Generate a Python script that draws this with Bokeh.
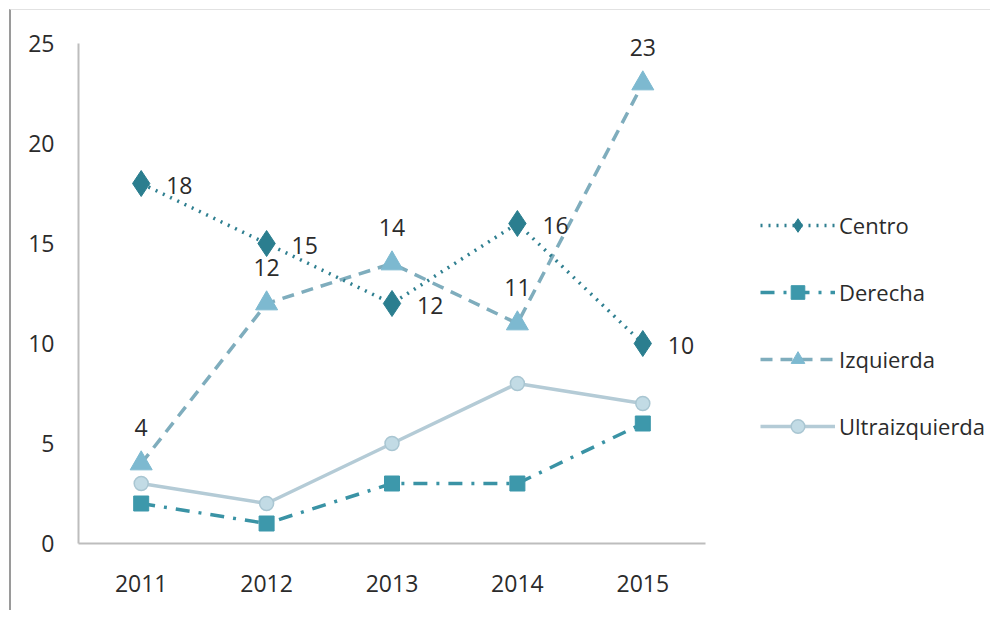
from bokeh.plotting import figure
from bokeh.models import ColumnDataSource, Legend, LegendItem, FixedTicker
from bokeh.core.properties import value
from bokeh.embed import file_html
from bokeh.resources import INLINE

years = ["2011", "2012", "2013", "2014", "2015"]
centro = [18, 15, 12, 16, 10]
derecha = [2, 1, 3, 3, 6]
izquierda = [4, 12, 14, 11, 23]
ultraizquierda = [3, 2, 5, 8, 7]
y_ticks = [0, 5, 10, 15, 20, 25]

FONT = "Open Sans"
TXT = "#2b2b2b"

p = figure(x_range=years, y_range=(0, 26.5), frame_width=627, frame_height=530,
           output_backend="svg", toolbar_location=None,
           min_border_left=67, min_border_right=0, min_border_top=3, min_border_bottom=67)
p.margin = (9, 0, 0, 9)
p.styles = {"border-left": "2px solid #9a9a9a", "border-top": "1px solid #e2e2e2"}
p.x_range.range_padding = 0
p.outline_line_color = None
p.xgrid.grid_line_color = None
p.ygrid.grid_line_color = None

for ax in (p.xaxis, p.yaxis):
    ax.axis_line_color = "#bdbdbd"
    ax.axis_line_width = 2
    ax.major_tick_line_color = None
    ax.minor_tick_line_color = None
    ax.major_label_text_font = FONT
    ax.major_label_text_font_size = "23px"
    ax.major_label_text_color = TXT
p.yaxis.ticker = FixedTicker(ticks=y_ticks)
p.yaxis.bounds = (0, 25)
p.yaxis.major_label_standoff = 18
p.xaxis.major_label_standoff = 25

src = ColumnDataSource(dict(x=years, c=centro, d=derecha, i=izquierda, u=ultraizquierda,
                            cl=[str(v) for v in centro], il=[str(v) for v in izquierda]))

# Ultraizquierda
lu = p.line("x", "u", source=src, line_color="#b4cbd6", line_width=3.5)
mu = p.scatter("x", "u", source=src, marker="circle", size=14,
               fill_color="#c2dbe5", line_color="#a9c6d2", line_width=1.5)
# Derecha
ld = p.line("x", "d", source=src, line_color="#3a93a5", line_width=3.5, line_dash="14 9 3 9")
md = p.scatter("x", "d", source=src, marker="square", size=15,
               fill_color="#3d98ab", line_color="#3d98ab")
# Izquierda
li = p.line("x", "i", source=src, line_color="#7fadbd", line_width=3.5, line_dash="12 8")
mi = p.scatter("x", "i", source=src, marker="triangle", size=22,
               fill_color="#7db9d0", line_color="#7db9d0")
# Centro
lc = p.line("x", "c", source=src, line_color="#2f7f90", line_width=3.5, line_dash="2 6")
mc = p.scatter("x", "c", source=src, marker="diamond", size=26,
               fill_color="#2b7e8f", line_color="#2b7e8f")

# data labels
p.text("x", "c", text="cl", source=src, x_offset=25, y_offset=2,
       text_align="left", text_baseline="middle",
       text_font=value(FONT), text_font_size="23px", text_color=TXT)
p.text("x", "i", text="il", source=src, x_offset=0, y_offset=-36,
       text_align="center", text_baseline="middle",
       text_font=value(FONT), text_font_size="23px", text_color=TXT)

legend = Legend(items=[
    LegendItem(label="Centro", renderers=[lc, mc]),
    LegendItem(label="Derecha", renderers=[ld, md]),
    LegendItem(label="Izquierda", renderers=[li, mi]),
    LegendItem(label="Ultraizquierda", renderers=[lu, mu]),
], location=(55, 100), orientation="vertical")
legend.glyph_width = 75
legend.glyph_height = 34
legend.label_height = 20
legend.spacing = 33
legend.padding = 0
legend.margin = 0
legend.label_standoff = 4
legend.label_text_font = FONT
legend.label_text_font_size = "22px"
legend.label_text_color = TXT
legend.border_line_color = None
legend.background_fill_alpha = 0
p.add_layout(legend, "right")

open("out.html", "w").write(file_html(p, INLINE))
